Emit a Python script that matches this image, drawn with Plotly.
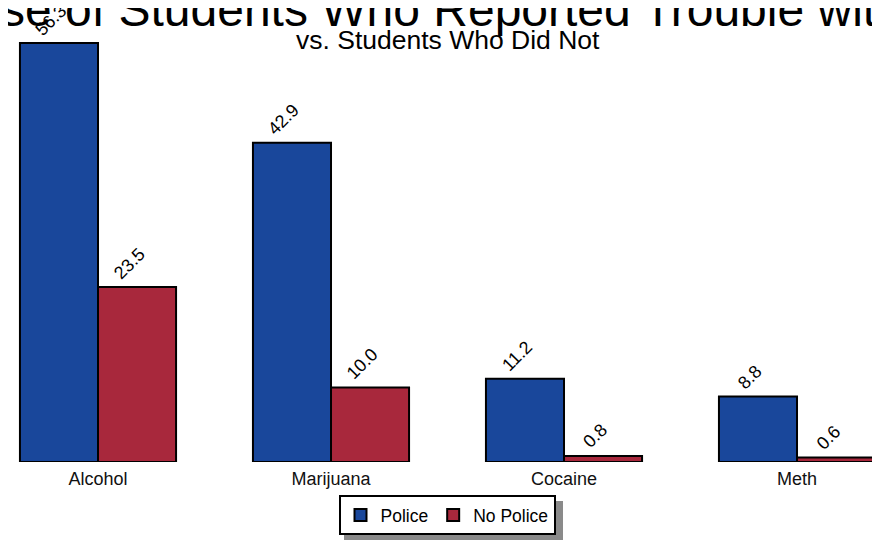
import plotly.graph_objects as go

categories = ["Alcohol", "Marijuana", "Cocaine", "Meth"]
police = [56.3, 42.9, 11.2, 8.8]
no_police = [23.5, 10.0, 0.8, 0.6]
series_names = ["Police", "No Police"]
title_text = "Drug Use of Students Who Reported Trouble with Police"
subtitle_text = "vs. Students Who Did Not"

FONT = "Liberation Sans, Arial, sans-serif"
BLUE = "#19479b"
RED = "#a8283c"

W, H = 872, 533  # page body has an 8px margin inside the 880x541 window
PLOT_H = 454
BARGAP = 0.33
half = (1 - BARGAP) / 4  # centre offset of each bar within its group

fig = go.Figure()
for name, vals, col in [(series_names[0], police, BLUE), (series_names[1], no_police, RED)]:
    fig.add_trace(go.Bar(
        x=categories, y=vals, name=name,
        marker=dict(color=col, line=dict(color="black", width=2)),
    ))

annotations = [
    dict(text=title_text, xref="paper", yref="paper", x=439.5 / W, y=1 - 1.0 / PLOT_H,
         xanchor="center", yanchor="middle", showarrow=False,
         font=dict(family=FONT, size=48, color="black")),
    dict(text=subtitle_text, xref="paper", yref="paper", x=439.5 / W, y=1 - 32 / PLOT_H,
         xanchor="center", yanchor="middle", showarrow=False,
         font=dict(family=FONT, size=26.5, color="black")),
]
for sign, vals in [(-1, police), (1, no_police)]:
    for i, v in enumerate(vals):
        annotations.append(dict(
            text=f"{v:.1f}", x=i + sign * half, y=v, xref="x", yref="y",
            xanchor="center", yanchor="bottom", showarrow=False, textangle=-45,
            xshift=-8, yshift=1,
            font=dict(family=FONT, size=18, color="black")))

fig.update_layout(
    width=W, height=H,
    margin=dict(l=0, r=0, t=0, b=H - PLOT_H),
    paper_bgcolor="white", plot_bgcolor="white",
    barmode="group", bargap=BARGAP, bargroupgap=0,
    font=dict(family=FONT, color="black"),
    showlegend=True,
    legend=dict(orientation="h", x=439 / W, xanchor="center", y=-(487 - PLOT_H) / PLOT_H,
                yanchor="top",
                bordercolor="black", borderwidth=2, bgcolor="white",
                font=dict(family=FONT, size=17.5, color="black")),
    xaxis=dict(range=[-0.3863, 3.3562], showgrid=False, zeroline=False, showline=False,
               ticks="", ticklabelstandoff=4,
               tickfont=dict(family=FONT, size=18, color="#111")),
    yaxis=dict(range=[0, 61.0], showgrid=False, zeroline=False, showline=False,
               showticklabels=False, ticks=""),
    annotations=annotations,
    shapes=[dict(type="rect", xref="paper", yref="paper", layer="below",
                 x0=336 / W, x1=555 / W, y0=-(532 - PLOT_H) / PLOT_H, y1=-(493 - PLOT_H) / PLOT_H,
                 fillcolor="#8a8a8a", line=dict(width=0))],
)

fig.write_html("out.html")
